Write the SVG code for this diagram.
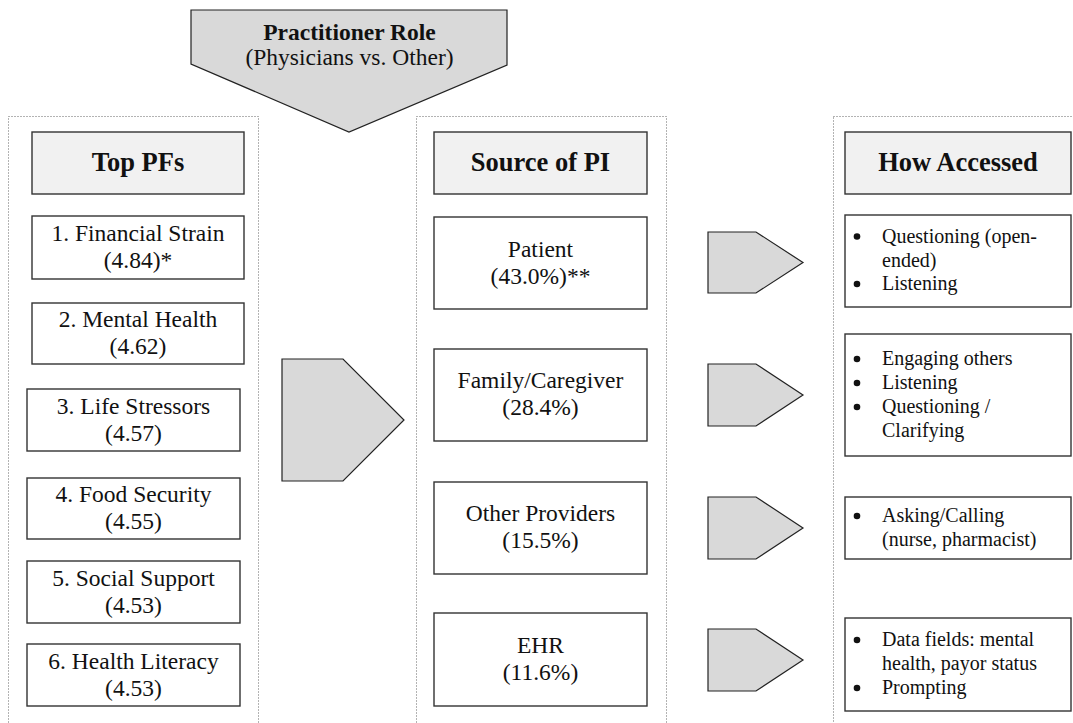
<svg xmlns="http://www.w3.org/2000/svg" width="1073" height="723" viewBox="0 0 1073 723">
  <style>
    .panel { fill: none; stroke: #666; stroke-width: 1; stroke-dasharray: 1 2; }
    .box { fill: #fff; stroke: #333; stroke-width: 1.4; }
    .head { fill: #f1f1f1; stroke: #333; stroke-width: 1.4; }
    .arrow { fill: #d9d9d9; stroke: #222; stroke-width: 1.2; stroke-linejoin: miter; }
    text { font-family: "Liberation Serif", "Times New Roman", serif; fill: #111; }
    .ht { font-size: 26.5px; font-weight: bold; text-anchor: middle; }
    .it { font-size: 23.5px; text-anchor: middle; }
    .bt { font-size: 20px; }
    .dot { fill: #111; }
  </style>

  <!-- dotted column panels -->
  <g id="panels">
    <rect class="panel" x="8.5" y="116.5" width="250" height="620"/>
    <rect class="panel" x="416.5" y="116.5" width="250" height="620"/>
    <rect class="panel" x="833.5" y="116.5" width="260" height="620"/>
  </g>

  <!-- block arrows -->
  <g id="connectors">
    <polygon id="role-arrow" class="arrow" points="191,10 507,10 507,65 349,132 191,64"/>
    <polygon class="arrow" points="282,359 343,359 404,420 343,481 282,481"/>
    <polygon class="arrow" points="708,232 756,232 803,262.5 756,293 708,293"/>
    <polygon class="arrow" points="708,364 756,364 803,395 756,426 708,426"/>
    <polygon class="arrow" points="708,497 756,497 803,528 756,559 708,559"/>
    <polygon class="arrow" points="708,629 756,629 803,660 756,691 708,691"/>
  </g>

  <g id="role-label">
    <text x="349.5" y="39.5" font-size="23.5" font-weight="bold" text-anchor="middle">Practitioner Role</text>
    <text x="349.5" y="64.5" font-size="23.5" text-anchor="middle">(Physicians vs. Other)</text>
  </g>

  <!-- column 1: top PFs -->
  <g id="top-pfs-head">
    <rect class="head" x="32" y="132" width="212" height="62"/>
    <text class="ht" x="138" y="171">Top PFs</text>
  </g>
  <g id="pf-1">
    <rect class="box" x="32" y="216" width="212" height="63"/>
    <text class="it" x="138" y="241">1. Financial Strain</text>
    <text class="it" x="138" y="268">(4.84)*</text>
  </g>
  <g id="pf-2">
    <rect class="box" x="32" y="303" width="212" height="61"/>
    <text class="it" x="138" y="327">2. Mental Health</text>
    <text class="it" x="138" y="354">(4.62)</text>
  </g>
  <g id="pf-3">
    <rect class="box" x="27" y="389" width="213" height="62"/>
    <text class="it" x="133.5" y="413.5">3. Life Stressors</text>
    <text class="it" x="133.5" y="440.5">(4.57)</text>
  </g>
  <g id="pf-4">
    <rect class="box" x="27" y="478" width="213" height="61"/>
    <text class="it" x="133.5" y="502">4. Food Security</text>
    <text class="it" x="133.5" y="529">(4.55)</text>
  </g>
  <g id="pf-5">
    <rect class="box" x="27" y="561" width="213" height="62"/>
    <text class="it" x="133.5" y="585.5">5. Social Support</text>
    <text class="it" x="133.5" y="612.5">(4.53)</text>
  </g>
  <g id="pf-6">
    <rect class="box" x="27" y="644" width="213" height="62"/>
    <text class="it" x="133.5" y="668.5">6. Health Literacy</text>
    <text class="it" x="133.5" y="695.5">(4.53)</text>
  </g>

  <!-- column 2: source of PI -->
  <g id="source-head">
    <rect class="head" x="434" y="132" width="213" height="62"/>
    <text class="ht" x="540.5" y="171">Source of PI</text>
  </g>
  <g id="src-patient">
    <rect class="box" x="434" y="217" width="213" height="92"/>
    <text class="it" x="540.5" y="256.5">Patient</text>
    <text class="it" x="540.5" y="283.5">(43.0%)**</text>
  </g>
  <g id="src-family">
    <rect class="box" x="434" y="349" width="213" height="92"/>
    <text class="it" x="540.5" y="388">Family/Caregiver</text>
    <text class="it" x="540.5" y="415">(28.4%)</text>
  </g>
  <g id="src-providers">
    <rect class="box" x="434" y="482" width="213" height="92"/>
    <text class="it" x="540.5" y="521">Other Providers</text>
    <text class="it" x="540.5" y="548">(15.5%)</text>
  </g>
  <g id="src-ehr">
    <rect class="box" x="434" y="613" width="213" height="93"/>
    <text class="it" x="540.5" y="652.5">EHR</text>
    <text class="it" x="540.5" y="679.5">(11.6%)</text>
  </g>

  <!-- column 3: how accessed -->
  <g id="access-head">
    <rect class="head" x="845" y="132" width="226" height="62"/>
    <text class="ht" x="958" y="171">How Accessed</text>
  </g>
  <g id="acc-patient">
    <rect class="box" x="845" y="215" width="226" height="92"/>
    <circle class="dot" cx="857" cy="236.5" r="3.3"/>
    <text class="bt" x="882" y="242.5">Questioning (open-</text>
    <text class="bt" x="882" y="266.5">ended)</text>
    <circle class="dot" cx="857" cy="284" r="3.3"/>
    <text class="bt" x="882" y="290">Listening</text>
  </g>
  <g id="acc-family">
    <rect class="box" x="845" y="334" width="226" height="122"/>
    <circle class="dot" cx="857" cy="359" r="3.3"/>
    <text class="bt" x="882" y="365">Engaging others</text>
    <circle class="dot" cx="857" cy="383" r="3.3"/>
    <text class="bt" x="882" y="389">Listening</text>
    <circle class="dot" cx="857" cy="407" r="3.3"/>
    <text class="bt" x="882" y="413">Questioning /</text>
    <text class="bt" x="882" y="437">Clarifying</text>
  </g>
  <g id="acc-providers">
    <rect class="box" x="845" y="497" width="226" height="62"/>
    <circle class="dot" cx="857" cy="516" r="3.3"/>
    <text class="bt" x="882" y="522">Asking/Calling</text>
    <text class="bt" x="882" y="545.5">(nurse, pharmacist)</text>
  </g>
  <g id="acc-ehr">
    <rect class="box" x="845" y="618" width="226" height="93"/>
    <circle class="dot" cx="857" cy="640" r="3.3"/>
    <text class="bt" x="882" y="646">Data fields: mental</text>
    <text class="bt" x="882" y="670">health, payor status</text>
    <circle class="dot" cx="857" cy="688" r="3.3"/>
    <text class="bt" x="882" y="694">Prompting</text>
  </g>
</svg>
